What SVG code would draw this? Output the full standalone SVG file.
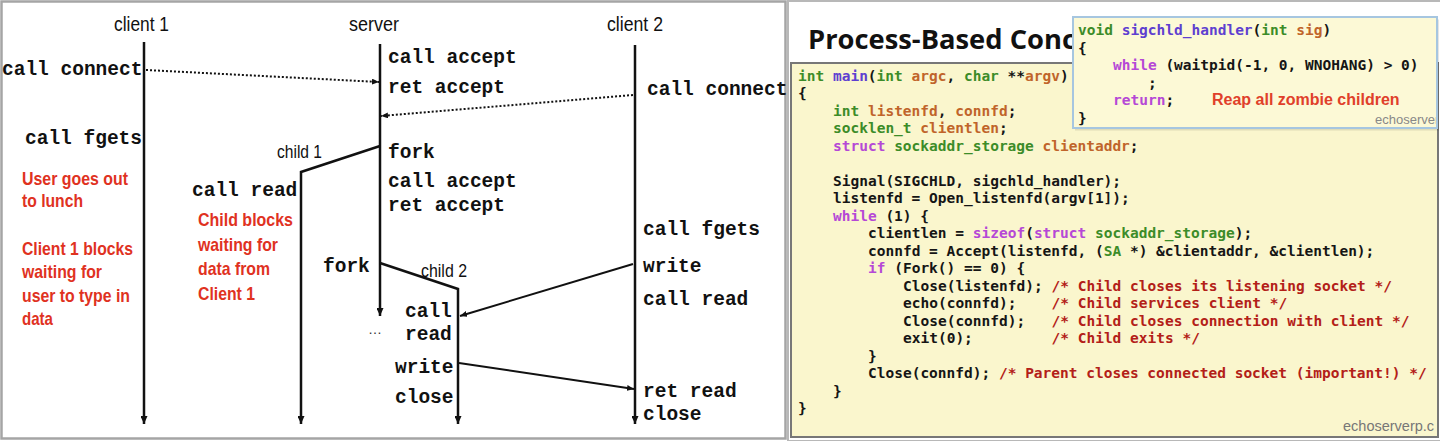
<svg xmlns="http://www.w3.org/2000/svg" width="1440" height="441" viewBox="0 0 1440 441">
<style>
.lbl{font-family:"Liberation Sans",Arial,sans-serif;font-size:20px;fill:#111}
.ch{font-family:"Liberation Sans",Arial,sans-serif;font-size:18px;fill:#111}
.op{font-family:"Liberation Mono","Courier New",monospace;font-weight:bold;font-size:19.5px;fill:#111}
.red{font-family:"Liberation Sans",Arial,sans-serif;font-weight:bold;font-size:18.5px;fill:#e0321f}
.life{stroke:#111;stroke-width:2.5;fill:none}
.msg{stroke:#111;stroke-width:2;fill:none}
.dot{stroke:#111;stroke-width:2;fill:none;stroke-dasharray:2 2}
.code{font-family:"DejaVu Sans Mono",monospace;font-weight:bold;font-size:14.5px;fill:#151515}
.g{fill:#3c8c28}.p{fill:#5e3fd0}.m{fill:#b548d6}.b{fill:#c0642a}.c{fill:#b32018}
</style>
<defs>
<marker id="ah" viewBox="0 0 8 7" refX="8" refY="3.5" markerWidth="8" markerHeight="7" markerUnits="userSpaceOnUse" orient="auto"><path d="M0,0 L8,3.5 L0,7 z" fill="#111"/></marker>
<marker id="as" viewBox="0 0 7 6" refX="7" refY="3" markerWidth="7" markerHeight="6" markerUnits="userSpaceOnUse" orient="auto"><path d="M0,0 L7,3 L0,6 z" fill="#111"/></marker>
<clipPath id="popclip"><rect x="1073" y="17" width="363" height="111"/></clipPath>
</defs>

<!-- left panel -->
<rect x="1.5" y="1.5" width="784" height="437" fill="#fff" stroke="#a5a5a5" stroke-width="2.5"/>

<g id="client1">
<text class="lbl" x="114" y="31" textLength="55" lengthAdjust="spacingAndGlyphs">client 1</text>
<line class="life" x1="144" y1="42" x2="144" y2="424" marker-end="url(#ah)"/>
<text class="op" x="2" y="75">call connect</text>
<text class="op" x="25" y="144">call fgets</text>
<text class="red" x="22" y="185" textLength="106" lengthAdjust="spacingAndGlyphs">User goes out</text>
<text class="red" x="22" y="207" textLength="61" lengthAdjust="spacingAndGlyphs">to lunch</text>
<text class="red" x="22" y="255" textLength="111" lengthAdjust="spacingAndGlyphs">Client 1 blocks</text>
<text class="red" x="22" y="278" textLength="80" lengthAdjust="spacingAndGlyphs">waiting for</text>
<text class="red" x="22" y="302" textLength="108" lengthAdjust="spacingAndGlyphs">user to type in</text>
<text class="red" x="22" y="325" textLength="31" lengthAdjust="spacingAndGlyphs">data</text>
</g>

<g id="server">
<text class="lbl" x="349" y="31" textLength="50" lengthAdjust="spacingAndGlyphs">server</text>
<line class="life" x1="380" y1="44" x2="380" y2="316" marker-end="url(#ah)"/>
<text class="op" x="388" y="63">call accept</text>
<text class="op" x="388" y="93">ret accept</text>
<text class="op" x="388" y="158">fork</text>
<text class="op" x="388" y="187">call accept</text>
<text class="op" x="388" y="211">ret accept</text>
<text class="op" x="323" y="272">fork</text>
<text x="368" y="334" font-family="Liberation Sans,Arial,sans-serif" font-size="14" fill="#333">…</text>
</g>

<g id="client2">
<text class="lbl" x="607" y="31" textLength="56" lengthAdjust="spacingAndGlyphs">client 2</text>
<line class="life" x1="635" y1="45" x2="635" y2="424" marker-end="url(#ah)"/>
<text class="op" x="647" y="95">call connect</text>
<text class="op" x="643" y="235">call fgets</text>
<text class="op" x="643" y="272">write</text>
<text class="op" x="643" y="305">call read</text>
<text class="op" x="643" y="397">ret read</text>
<text class="op" x="643" y="420">close</text>
</g>

<g id="child1">
<text class="ch" x="277" y="158" textLength="45" lengthAdjust="spacingAndGlyphs">child 1</text>
<polyline class="life" points="380,146 301,172 301,424" marker-end="url(#ah)"/>
<text class="op" x="192" y="196">call read</text>
<text class="red" x="198" y="226" textLength="95" lengthAdjust="spacingAndGlyphs">Child blocks</text>
<text class="red" x="198" y="251" textLength="80" lengthAdjust="spacingAndGlyphs">waiting for</text>
<text class="red" x="198" y="275" textLength="72" lengthAdjust="spacingAndGlyphs">data from</text>
<text class="red" x="198" y="300" textLength="57" lengthAdjust="spacingAndGlyphs">Client 1</text>
</g>

<g id="child2">
<text class="ch" x="421" y="277" textLength="46" lengthAdjust="spacingAndGlyphs">child 2</text>
<polyline class="life" points="380,263 458,289 458,424" marker-end="url(#ah)"/>
<text class="op" x="405" y="317">call</text>
<text class="op" x="405" y="340">read</text>
<text class="op" x="395" y="373">write</text>
<text class="op" x="395" y="403">close</text>
</g>

<g id="connectors">
<line class="dot" x1="146" y1="70" x2="379" y2="82" marker-end="url(#as)"/>
<line class="dot" x1="633" y1="95" x2="381" y2="116" marker-end="url(#as)"/>
<line class="msg" x1="633" y1="264" x2="460" y2="316" marker-end="url(#as)"/>
<line class="msg" x1="459" y1="363" x2="634" y2="389" marker-end="url(#as)"/>
</g>

<!-- right panel -->
<rect x="788" y="1" width="653" height="440" fill="#fff" stroke="#b8b8b8" stroke-width="2"/>
<text x="808" y="49" font-family="Open Sans,sans-serif" font-weight="bold" font-size="26" fill="#111" textLength="268" lengthAdjust="spacingAndGlyphs">Process-Based Conc</text>

<g id="main-code">
<rect x="791" y="63" width="647" height="374" fill="#faf6cd" stroke="#777" stroke-width="2"/>
<text class="code" x="798" y="80.5"><tspan class="g">int</tspan> <tspan class="p">main</tspan>(<tspan class="g">int</tspan> <tspan class="b">argc</tspan>, <tspan class="g">char</tspan> **<tspan class="b">argv</tspan>)</text>
<text class="code" x="798" y="98">{</text>
<text class="code" x="833" y="115.5"><tspan class="g">int</tspan> <tspan class="b">listenfd</tspan>, <tspan class="b">connfd</tspan>;</text>
<text class="code" x="833" y="133"><tspan class="g">socklen_t</tspan> <tspan class="b">clientlen</tspan>;</text>
<text class="code" x="833" y="150.5"><tspan class="m">struct</tspan> <tspan class="g">sockaddr_storage</tspan> <tspan class="b">clientaddr</tspan>;</text>
<text class="code" x="833" y="185.5">Signal(SIGCHLD, sigchld_handler);</text>
<text class="code" x="833" y="203">listenfd = Open_listenfd(argv[1]);</text>
<text class="code" x="833" y="220.5"><tspan class="m">while</tspan> (1) {</text>
<text class="code" x="868" y="238">clientlen = <tspan class="m">sizeof</tspan>(<tspan class="m">struct</tspan> <tspan class="g">sockaddr_storage</tspan>);</text>
<text class="code" x="868" y="255.5">connfd = Accept(listenfd, (<tspan class="g">SA</tspan> *) &amp;clientaddr, &amp;clientlen);</text>
<text class="code" x="868" y="273"><tspan class="m">if</tspan> (Fork() == 0) {</text>
<text class="code" x="903" y="290.5">Close(listenfd);<tspan class="c" x="1051.5">/* Child closes its listening socket */</tspan></text>
<text class="code" x="903" y="308">echo(connfd);<tspan class="c" x="1051.5">/* Child services client */</tspan></text>
<text class="code" x="903" y="325.5">Close(connfd);<tspan class="c" x="1051.5">/* Child closes connection with client */</tspan></text>
<text class="code" x="903" y="343">exit(0);<tspan class="c" x="1051.5">/* Child exits */</tspan></text>
<text class="code" x="868" y="360.5">}</text>
<text class="code" x="868" y="378">Close(connfd); <tspan class="c">/* Parent closes connected socket (important!) */</tspan></text>
<text class="code" x="833" y="395.5">}</text>
<text class="code" x="798" y="413">}</text>
<text x="1343" y="431" font-family="Liberation Sans,Arial,sans-serif" font-size="14.5" fill="#777">echoserverp.c</text>
</g>

<g id="handler-popup">
<rect x="1075" y="19.5" width="364" height="111" fill="#000" fill-opacity="0.1"/>
<rect x="1073" y="17" width="364" height="111" fill="#fcf9d6" stroke="#a6c6e0" stroke-width="2"/>
<text class="code" x="1078" y="35"><tspan class="g">void</tspan> <tspan class="p">sigchld_handler</tspan>(<tspan class="g">int</tspan> <tspan class="b">sig</tspan>)</text>
<text class="code" x="1078" y="52.5">{</text>
<text class="code" x="1113" y="70"><tspan class="m">while</tspan> (waitpid(-1, 0, WNOHANG) &gt; 0)</text>
<text class="code" x="1148" y="87.5">;</text>
<text class="code" x="1113" y="105"><tspan class="m">return</tspan>;</text>
<text class="code" x="1078" y="122.5">}</text>
<text x="1212" y="105" font-family="Liberation Sans,Arial,sans-serif" font-weight="bold" font-size="16" fill="#e0402a">Reap all zombie children</text>
<text x="1375" y="124" font-family="Liberation Sans,Arial,sans-serif" font-size="13" fill="#888" clip-path="url(#popclip)">echoserver</text>
</g>
</svg>
